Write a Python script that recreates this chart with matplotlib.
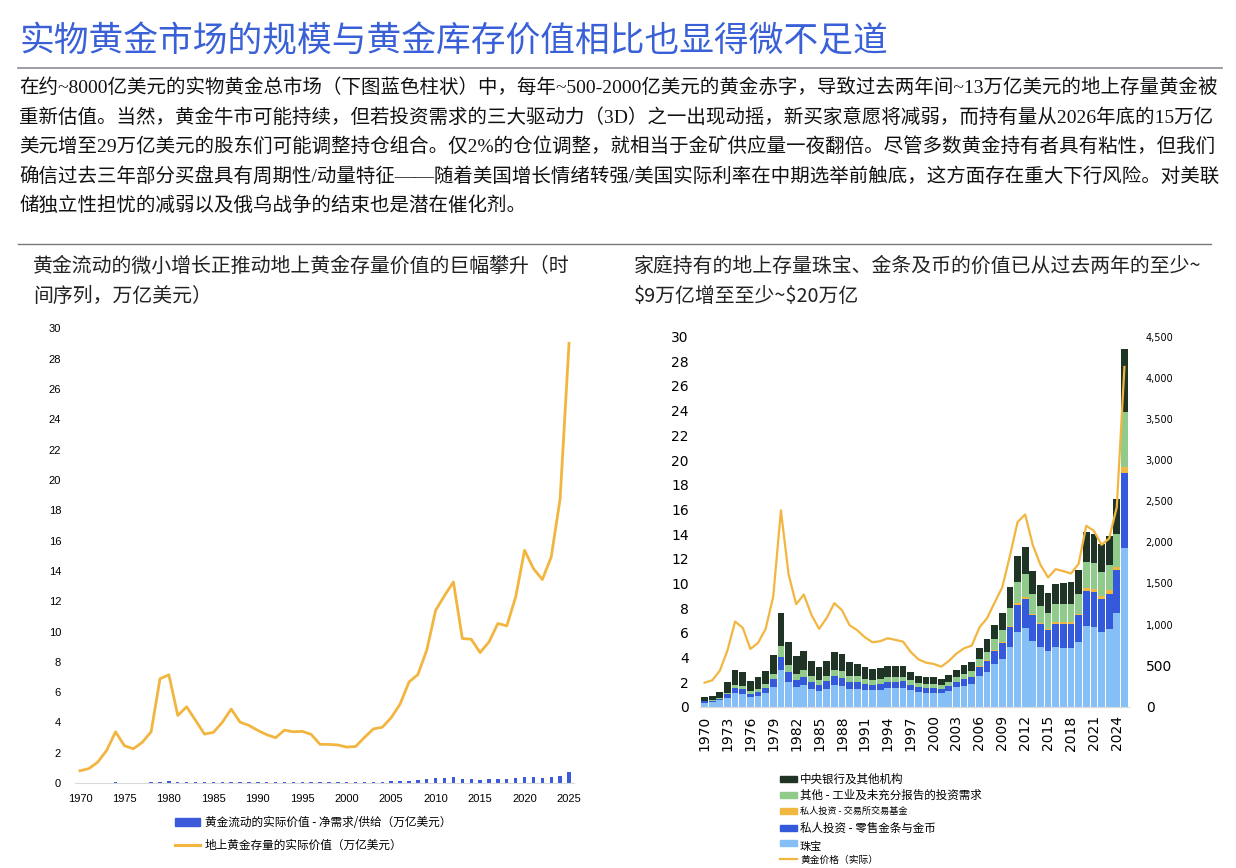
import numpy as np
import matplotlib
matplotlib.use("Agg")
import matplotlib.pyplot as plt
from matplotlib.patches import Rectangle
from matplotlib.lines import Line2D

plt.rcParams['font.family'] = ['Noto Sans CJK SC', 'DejaVu Sans']
plt.rcParams['axes.unicode_minus'] = False

# ---- data ----
years = np.arange(1970, 2026)

# left chart: trillion USD, real
stock_value = [0.81, 0.95, 1.38, 2.15, 3.38, 2.46, 2.26, 2.68, 3.38, 6.88,
               7.14, 4.46, 5.03, 4.13, 3.23, 3.34, 4.00, 4.88, 4.02, 3.80,
               3.47, 3.19, 2.99, 3.49, 3.38, 3.41, 3.21, 2.55, 2.55, 2.51,
               2.37, 2.41, 3.01, 3.57, 3.68, 4.31, 5.21, 6.66, 7.16, 8.77,
               11.40, 12.37, 13.27, 9.54, 9.49, 8.61, 9.31, 10.53, 10.37, 12.28,
               15.36, 14.15, 13.43, 14.92, 18.77, 29.03]
flow_value = [0.01, 0.01, 0.02, 0.03, 0.04, 0.03, 0.03, 0.03, 0.04, 0.08,
              0.10, 0.05, 0.05, 0.05, 0.04, 0.04, 0.05, 0.06, 0.05, 0.04,
              0.04, 0.04, 0.04, 0.04, 0.04, 0.04, 0.04, 0.04, 0.04, 0.04,
              0.04, 0.04, 0.05, 0.06, 0.09, 0.11, 0.13, 0.15, 0.20, 0.24,
              0.31, 0.35, 0.37, 0.24, 0.26, 0.22, 0.26, 0.29, 0.29, 0.33,
              0.37, 0.37, 0.33, 0.37, 0.44, 0.73]

# right chart: stacked holdings (trillion USD) + real gold price
jewelry = [0.35, 0.40, 0.54, 0.75, 1.15, 1.07, 0.78, 0.91, 1.15, 1.64,
           2.98, 2.04, 1.61, 1.77, 1.48, 1.32, 1.48, 1.77, 1.72, 1.45,
           1.45, 1.37, 1.34, 1.40, 1.50, 1.50, 1.53, 1.34, 1.21, 1.16,
           1.16, 1.10, 1.32, 1.59, 1.72, 1.88, 2.47, 2.80, 3.47, 3.87,
           4.84, 6.05, 6.37, 5.38, 4.87, 4.52, 4.87, 4.81, 4.81, 5.24,
           6.56, 6.45, 6.05, 6.32, 7.61, 12.85]
retail = [0.10, 0.10, 0.13, 0.30, 0.38, 0.38, 0.27, 0.29, 0.38, 0.62,
          1.05, 0.78, 0.57, 0.68, 0.56, 0.45, 0.59, 0.70, 0.65, 0.59,
          0.59, 0.51, 0.46, 0.48, 0.54, 0.54, 0.54, 0.43, 0.40, 0.34,
          0.34, 0.35, 0.37, 0.43, 0.51, 0.54, 0.76, 0.91, 1.07, 1.32,
          1.61, 2.18, 2.34, 2.04, 1.85, 1.72, 1.88, 1.94, 1.94, 2.18,
          2.82, 2.85, 2.69, 2.85, 3.52, 6.08]
etf = [0.0] * 33 + [0.01, 0.02, 0.03, 0.05, 0.07, 0.08, 0.10,
                    0.12, 0.16, 0.19, 0.11, 0.10, 0.09, 0.12, 0.12, 0.12, 0.14,
                    0.24, 0.24, 0.24, 0.27, 0.24, 0.54]
other = [0.05, 0.05, 0.08, 0.10, 0.27, 0.25, 0.25, 0.25, 0.32, 0.44,
         0.89, 0.57, 0.48, 0.53, 0.46, 0.38, 0.43, 0.51, 0.53, 0.43,
         0.43, 0.38, 0.38, 0.40, 0.41, 0.41, 0.38, 0.38, 0.33, 0.33,
         0.33, 0.30, 0.35, 0.38, 0.45, 0.43, 0.64, 0.71, 0.85, 0.98,
         1.48, 1.77, 1.83, 1.58, 1.37, 1.29, 1.43, 1.43, 1.48, 1.62,
         2.15, 2.10, 1.99, 2.06, 2.61, 4.43]
central_banks = [0.30, 0.35, 0.50, 0.85, 1.20, 1.15, 0.80, 0.95, 1.10, 1.55,
                 2.71, 1.88, 1.45, 1.59, 1.26, 1.10, 1.26, 1.48, 1.37, 1.16,
                 1.05, 0.99, 0.88, 0.89, 0.91, 0.91, 0.91, 0.70, 0.61, 0.57,
                 0.57, 0.53, 0.56, 0.62, 0.73, 0.73, 0.89, 0.98, 1.21, 1.32,
                 1.64, 2.10, 2.25, 1.91, 1.69, 1.59, 1.69, 1.74, 1.74, 1.93,
                 2.37, 2.36, 2.23, 2.37, 2.90, 5.10]
gold_price = [296, 324, 442, 689, 1038, 961, 705, 778, 949, 1346,
              2388, 1613, 1248, 1366, 1119, 949, 1082, 1261, 1176, 993,
              932, 847, 786, 799, 835, 815, 794, 669, 580, 539,
              523, 490, 559, 649, 713, 746, 965, 1078, 1269, 1455,
              1836, 2246, 2339, 1966, 1727, 1573, 1674, 1650, 1621, 1739,
              2201, 2140, 1970, 2047, 2428, 4130]

stack_series = [
    (jewelry, '#86bff6', '珠宝'),
    (retail, '#3559db', '私人投资 - 零售金条与金币'),
    (etf, '#f0b840', '私人投资 - 交易所交易基金'),
    (other, '#90cb8b', '其他 - 工业及未充分报告的投资需求'),
    (central_banks, '#1f3424', '中央银行及其他机构'),
]

title = '实物黄金市场的规模与黄金库存价值相比也显得微不足道'
paragraph = [
    '在约~8000亿美元的实物黄金总市场（下图蓝色柱状）中，每年~500-2000亿美元的黄金赤字，导致过去两年间~13万亿美元的地上存量黄金被',
    '重新估值。当然，黄金牛市可能持续，但若投资需求的三大驱动力（3D）之一出现动摇，新买家意愿将减弱，而持有量从2026年底的15万亿',
    '美元增至29万亿美元的股东们可能调整持仓组合。仅2%的仓位调整，就相当于金矿供应量一夜翻倍。尽管多数黄金持有者具有粘性，但我们',
    '确信过去三年部分买盘具有周期性/动量特征——随着美国增长情绪转强/美国实际利率在中期选举前触底，这方面存在重大下行风险。对美联',
    '储独立性担忧的减弱以及俄乌战争的结束也是潜在催化剂。',
]

ORANGE = '#f2b640'
W, H = 1236, 868


def fx(x):
    return x / W


def fy(y):
    return 1 - y / H


fig = plt.figure(figsize=(W / 100, H / 100), dpi=100)

# ---- header ----
fig.text(fx(19), fy(42), title, fontsize=25, color='#3a60d8', va='center')
fig.add_artist(Line2D([fx(18), fx(1222)], [fy(68), fy(68)], color='#8a8d94', lw=1.2))
para_font = ['Liberation Serif', 'Noto Sans CJK SC']
for i, line in enumerate(paragraph):
    fig.text(fx(19), fy(88 + i * 29.5), line, fontsize=14.0, va='center',
             family=para_font, color='#111111')
fig.add_artist(Line2D([fx(18), fx(1211)], [fy(244), fy(244)], color='#777777', lw=1.0))

fig.text(fx(33), fy(266), '黄金流动的微小增长正推动地上黄金存量价值的巨幅攀升（时',
         fontsize=14.3, va='center', color='#222222')
fig.text(fx(33), fy(296), '间序列，万亿美元）', fontsize=14.3, va='center', color='#222222')
fig.text(fx(634), fy(266), '家庭持有的地上存量珠宝、金条及币的价值已从过去两年的至少~',
         fontsize=14.3, va='center', color='#222222')
fig.text(fx(634), fy(296), r'\$9万亿增至至少~\$20万亿', fontsize=14.3, va='center', color='#222222')

# ---- left chart ----
axl = fig.add_axes([fx(75), fy(783), 499 / W, 454.5 / H])
axl.bar(years, flow_value, width=0.38, color='#3b5bdb', zorder=2)
axl.plot(years, stock_value, color=ORANGE, lw=2.0, zorder=3)
axl.set_xlim(1969.44, 2025.56)
axl.set_ylim(0, 30)
axl.set_yticks(np.arange(0, 31, 2))
axl.set_xticks(np.arange(1970, 2026, 5))
for s in ['top', 'right', 'left']:
    axl.spines[s].set_visible(False)
axl.spines['bottom'].set_color('#d9d9d9')
axl.tick_params(length=0, labelsize=8, pad=8)
axl.tick_params(axis='y', pad=10)
for lab in axl.get_xticklabels() + axl.get_yticklabels():
    lab.set_family(['Liberation Sans', 'DejaVu Sans'])
axl.set_facecolor('none')

# left legend
fig.patches.append(Rectangle((fx(175), fy(826)), 25 / W, 8 / H, transform=fig.transFigure,
                             color='#3b5bdb'))
fig.text(fx(205), fy(822), '黄金流动的实际价值 - 净需求/供给（万亿美元）', fontsize=8.4, va='center')
fig.add_artist(Line2D([fx(175), fx(200)], [fy(845), fy(845)], color=ORANGE, lw=2.2))
fig.text(fx(205), fy(845), '地上黄金存量的实际价值（万亿美元）', fontsize=8.4, va='center')

# ---- right chart ----
axr = fig.add_axes([fx(700), fy(707), 429 / W, 370.5 / H])
bottom = np.zeros(len(years))
for vals, color, label in stack_series:
    axr.bar(years, vals, bottom=bottom, width=0.88, color=color, label=label, zorder=2)
    bottom += np.array(vals)
axr.set_xlim(1969.4, 2025.6)
axr.set_ylim(0, 30)
axr.set_yticks(np.arange(0, 31, 2))
axr.set_xticks(np.arange(1970, 2025, 3))
axr.tick_params(length=0, labelsize=10)
axr.tick_params(axis='x', rotation=90, pad=6)
axr.tick_params(axis='y', pad=8)
for s in ['top', 'right', 'left']:
    axr.spines[s].set_visible(False)
axr.spines['bottom'].set_color('#d9d9d9')
for lab in axr.get_xticklabels() + axr.get_yticklabels():
    lab.set_family('DejaVu Sans')

axr2 = axr.twinx()
axr2.plot(years, gold_price, color=ORANGE, lw=1.6, zorder=4)
axr2.set_ylim(0, 4500)
axr2.set_yticks(np.arange(0, 4501, 500))
axr2.set_yticklabels(['{:,}'.format(v) for v in range(0, 4501, 500)])
axr2.tick_params(length=0, pad=12)
for s in axr2.spines.values():
    s.set_visible(False)
for v, lab in zip(range(0, 4501, 500), axr2.get_yticklabels()):
    lab.set_family('DejaVu Sans')
    lab.set_fontsize(10 if v <= 500 else 7)

# right legend (drawn top to bottom like the reference)
leg_rows = [
    (779, 4, '中央银行及其他机构', 8.3),
    (795, 3, '其他 - 工业及未充分报告的投资需求', 8.3),
    (811, 2, '私人投资 - 交易所交易基金', 6.6),
    (828, 1, '私人投资 - 零售金条与金币', 8.3),
]
for y, idx, label, fs in leg_rows:
    fig.patches.append(Rectangle((fx(780), fy(y + 3)), 17 / W, 6 / H,
                                 transform=fig.transFigure, color=stack_series[idx][1]))
    fig.text(fx(800), fy(y), label, fontsize=fs, va='center')
fig.patches.append(Rectangle((fx(780), fy(846)), 17 / W, 6 / H,
                             transform=fig.transFigure, color=stack_series[0][1]))
fig.text(fx(800), fy(847), '珠宝', fontsize=8.0, va='center')
fig.add_artist(Line2D([fx(780), fx(797)], [fy(859), fy(859)], color=ORANGE, lw=1.6))
fig.text(fx(800), fy(859.5), '黄金价格（实际）', fontsize=7.0, va='center')

fig.savefig('out.png', dpi=100)
